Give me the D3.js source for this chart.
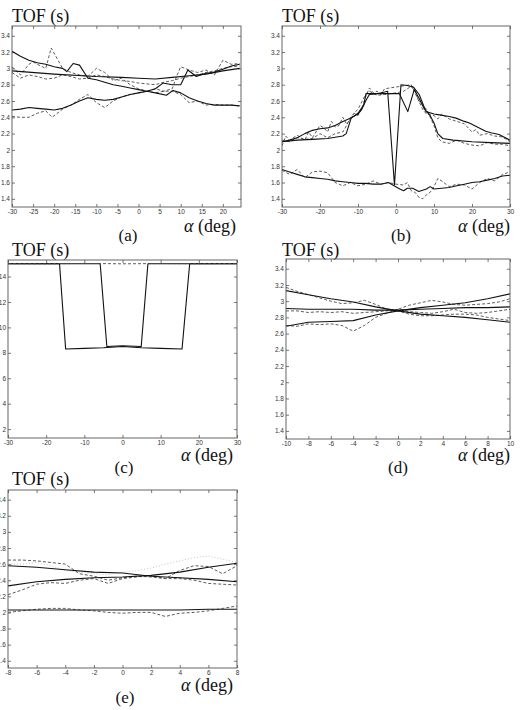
<!DOCTYPE html>
<html><head><meta charset="utf-8">
<script src="https://cdn.jsdelivr.net/npm/d3@7"></script>
<style>body{margin:0;background:#fff}svg{display:block}</style>
</head><body>
<script>
// ---------- DATA ----------
const yTicksTOF = [1.4,1.6,1.8,2,2.2,2.4,2.6,2.8,3,3.2,3.4];
const yTicksC = [2,4,6,8,10,12,14];
const xTicksA = [-30,-25,-20,-15,-10,-5,0,5,10,15,20];
const xTicksB = [-30,-20,-10,0,10,20,30];
const xTicksC = [-30,-20,-10,0,10,20,30];
const xTicksD = [-10,-8,-6,-4,-2,0,2,4,6,8,10];
const xTicksE = [-8,-6,-4,-2,0,2,4,6,8];

// panel (a)
const aS1x = [-30,-28,-26,-24,-22,-20,-18,-17,-15.5,-14,-12,-10,-8,-6,-4,-2,0,2,4,6.6,8.2,10,12,14,16,18,20,22,24];
const aS1y = [3.21,3.15,3.1,3.07,3.05,3.02,3.0,2.96,3.06,3.04,2.88,2.86,2.83,2.8,2.78,2.76,2.74,2.72,2.7,2.67,2.73,2.7,2.64,2.6,2.57,2.55,2.55,2.55,2.54];
const aS2x = [-30,-20,-10,-4,0,4,8,12,16,20,24];
const aS2y = [2.97,2.93,2.9,2.89,2.88,2.87,2.89,2.91,2.93,2.97,3.0];
const aS3x = [-30,-28,-26,-24,-22,-20,-18,-16,-14,-12,-10,-8,-6,-4,-2,0,2,4,5.8,8,10,11.7,13.7,16,17.6,20,22,24];
const aS3y = [2.49,2.5,2.52,2.51,2.5,2.49,2.51,2.55,2.6,2.64,2.62,2.61,2.62,2.65,2.68,2.7,2.72,2.75,2.82,2.8,2.8,2.98,2.9,2.94,2.95,2.99,3.03,3.05];
const aD1x = [-30,-28,-26,-25,-24,-22,-20.7,-18,-16,-14,-12,-10,-8,-6,-4,-2,0,2,4,6,8,10,12,14,16,18,20,22,24];
const aD1y = [3.02,2.92,3.05,3.08,3.05,3.0,3.25,3.0,2.95,2.92,2.9,3.0,2.95,2.85,2.88,2.8,2.75,2.72,2.7,2.72,2.72,2.68,2.58,2.6,2.55,2.56,2.55,2.55,2.54];
const aD2x = [-30,-28,-26,-24,-22,-20,-18,-16,-14,-12,-10,-8,-6,-4,-2,0,2,4,6,8,10,12,14,16,18,20,22,24];
const aD2y = [2.95,2.88,2.92,2.9,2.87,2.88,2.92,2.9,2.87,2.88,2.92,2.9,2.87,2.85,2.84,2.82,2.81,2.8,2.83,2.85,2.88,2.9,2.92,2.95,2.97,3.0,3.02,3.03];
const aD3x = [-30,-28,-26,-24,-22,-20.5,-18,-16,-14,-12,-10,-8,-6,-4,-2,0,2,4,6,8,9,10,12,14,16,18,20,22,24];
const aD3y = [2.41,2.4,2.4,2.45,2.48,2.4,2.5,2.55,2.62,2.68,2.58,2.52,2.6,2.65,2.68,2.7,2.72,2.75,2.72,2.75,2.9,3.02,2.98,2.95,2.98,2.92,3.1,3.05,3.06];

// panel (b)
const bS1x = [-30,-28,-26,-24,-22,-20,-18,-16,-14,-12,-10,-9,-8,-7,-5,-3,-2.2,-0.4,1.3,3,4.6,6.1,7.9,10,11.4,14,15.8,18,19.3,21,23.6,25,27.1,30];
const bS1y = [2.1,2.12,2.15,2.2,2.24,2.26,2.27,2.3,2.35,2.39,2.44,2.5,2.6,2.68,2.69,2.71,2.72,1.57,2.8,2.79,2.77,2.68,2.47,2.44,2.43,2.41,2.39,2.35,2.33,2.29,2.23,2.21,2.19,2.12];
const bS2x = [-30,-26,-22,-18,-14,-13.1,-11.8,-10,-8.5,-7.9,-4,0,0.9,3.1,4.8,6,7.5,9,10,11,12.3,15,20,25,30];
const bS2y = [2.1,2.12,2.13,2.14,2.17,2.2,2.39,2.45,2.55,2.69,2.69,2.69,2.69,2.47,2.74,2.64,2.5,2.42,2.33,2.2,2.14,2.12,2.1,2.09,2.08];
const bS3x = [-30,-28,-26,-24,-22,-20,-18,-16,-14,-12,-10,-8,-6,-4,-2,-0.5,1,2,3,4.4,6,8,9,10,12,14,16,18,20,22,24,26,28,30];
const bS3y = [1.76,1.73,1.7,1.67,1.66,1.65,1.64,1.62,1.61,1.6,1.59,1.59,1.58,1.58,1.6,1.56,1.52,1.5,1.53,1.53,1.49,1.52,1.55,1.52,1.53,1.54,1.56,1.58,1.6,1.61,1.63,1.65,1.68,1.69];
const bD1x = [-30,-29,-28,-26,-24,-23,-22,-20,-19,-18,-17,-16,-15,-14,-13,-12,-11,-10,-9,-8,-7,-6,-5,-4,-3,4,5,6,7,8,10,11,12,14,16,18,20,21,22,24,26,28,30];
const bD1y = [2.05,2.17,2.12,2.18,2.12,2.22,2.15,2.3,2.27,2.22,2.35,2.28,2.3,2.4,2.32,2.37,2.45,2.42,2.5,2.65,2.76,2.7,2.72,2.68,2.75,2.8,2.7,2.6,2.5,2.44,2.42,2.38,2.44,2.38,2.35,2.32,2.22,2.25,2.18,2.2,2.17,2.16,2.1];
const bD2x = [-30,-28,-26,-24,-22,-20,-18,-16,-14,-13,-12,-10,-8,-7,-5,-3,0,2,4,5,6,8,10,11,12,14,16,18,20,22,24,26,28,30];
const bD2y = [2.12,2.1,2.15,2.13,2.14,2.2,2.15,2.2,2.22,2.3,2.4,2.5,2.68,2.72,2.67,2.68,2.7,2.72,2.78,2.72,2.6,2.5,2.3,2.15,2.1,2.08,2.12,2.08,2.06,2.05,2.09,2.07,2.07,2.05];
const bD3x = [-30,-28,-26,-24,-22,-20,-18,-16,-14,-12,-10,-8,-6,-4,-2,0,2,3,4,5,6,7,8,9,10,11,12,14,16,18,20,22,24,26,28,30];
const bD3y = [1.75,1.7,1.76,1.66,1.73,1.74,1.72,1.6,1.56,1.6,1.56,1.58,1.62,1.58,1.6,1.58,1.57,1.6,1.5,1.48,1.42,1.4,1.45,1.48,1.55,1.65,1.62,1.55,1.58,1.57,1.52,1.6,1.65,1.62,1.7,1.73];

// panel (c)
const cS1x = [-30,-16.5,-14.9,-10,-5,0,5,10,15.6,17.6,30];
const cS1y = [15,15,8.3,8.35,8.4,8.5,8.4,8.35,8.3,15,15];
const cS2x = [-30,-5.85,-4.1,0,4.9,6.66,30];
const cS2y = [15,15,8.5,8.55,8.5,15,15];
const cD1x = [-30,-20,-10,0,10,20,30];
const cD1y = [15.02,15,15.03,15,15.02,15.01,15.03];

// panel (d)
const dX = [-10,-8,-6,-4,-2,0,2,4,6,8,10];
const dS1y = [3.13,3.08,3.03,2.99,2.93,2.88,2.84,2.82,2.8,2.77,2.74];
const dS2y = [2.69,2.74,2.75,2.76,2.83,2.88,2.92,2.95,2.98,3.03,3.09];
const dS3y = [2.91,2.9,2.9,2.9,2.89,2.89,2.9,2.91,2.92,2.92,2.93];
const dDx = [-10,-9,-8,-7,-6,-5,-4,-3,-2,-1,0,1,2,3,4,5,6,7,8,9,10];
const dD1y = [3.17,3.12,3.08,3.04,3.0,2.97,2.98,3.01,2.96,2.9,2.88,2.84,2.82,2.82,2.83,2.84,2.84,2.83,2.8,2.78,2.76];
const dD2y = [2.7,2.69,2.72,2.71,2.72,2.7,2.63,2.7,2.8,2.85,2.9,2.95,2.98,3.01,2.99,2.96,2.95,2.96,2.97,2.99,3.03];
const dD3y = [2.88,2.88,2.86,2.87,2.86,2.87,2.85,2.86,2.87,2.88,2.9,2.87,2.86,2.85,2.87,2.9,2.86,2.85,2.86,2.88,2.9];

// panel (e)
const eX = [-8,-6,-4,-2,0,2,4,6,8];
const eS1y = [2.58,2.56,2.53,2.5,2.49,2.45,2.43,2.41,2.38];
const eS2y = [2.33,2.38,2.41,2.43,2.44,2.46,2.5,2.56,2.61];
const eS3y = [2.03,2.03,2.03,2.03,2.03,2.03,2.03,2.04,2.04];
const eDx = [-8,-7,-6,-5,-4,-3,-2,-1,0,1,2,3,4,5,6,7,8];
const eD1y = [2.65,2.65,2.64,2.62,2.6,2.48,2.45,2.4,2.43,2.45,2.44,2.42,2.42,2.4,2.36,2.35,2.34];
const eD2y = [2.22,2.28,2.35,2.37,2.36,2.4,2.42,2.36,2.42,2.44,2.46,2.42,2.52,2.58,2.57,2.48,2.58];
const eD3y = [2.0,2.02,2.04,2.05,2.05,2.03,2.02,2.0,1.99,2.0,2.0,1.95,1.99,2.0,2.02,2.05,2.08];
const eF1y = [2.6,2.6,2.62,2.58,2.52,2.5,2.48,2.47,2.5,2.52,2.55,2.6,2.64,2.68,2.7,2.66,2.62];

// ---------- DRAW ----------
const svg = d3.select("body").append("svg").attr("width",520).attr("height",710);
const SERIF = "'Liberation Serif','DejaVu Serif',serif";
const SANS = "'Liberation Sans',Arial,sans-serif";
const STY = {
  solid:{stroke:"#111",w:1.1,dash:null},
  dash:{stroke:"#4a4a4a",w:0.9,dash:"3,2"},
  faint:{stroke:"#bdbdbd",w:0.9,dash:"1,2"}
};
const zip = (xs,ys)=>xs.map((x,i)=>[x,ys[i]]);

function panel(p){
  const g = svg.append("g");
  const x = d3.scaleLinear().domain(p.xDom).range([p.l,p.r]);
  const y = d3.scaleLinear().domain(p.yDom).range([p.b,p.t]);
  const fmt = d3.format("~g");
  const tl = 3;
  const ab = g.append("g").attr("transform",`translate(0,${p.b})`)
    .call(d3.axisBottom(x).tickValues(p.xTicks).tickSizeInner(-tl).tickSizeOuter(0).tickPadding(4).tickFormat(d=>String(d)));
  const al = g.append("g").attr("transform",`translate(${p.l},0)`)
    .call(d3.axisLeft(y).tickValues(p.yTicks).tickSizeInner(-tl).tickSizeOuter(0).tickPadding(2).tickFormat(fmt));
  const at = g.append("g").attr("transform",`translate(0,${p.t})`)
    .call(d3.axisTop(x).tickValues(p.xTicks).tickSizeInner(-tl).tickSizeOuter(0).tickFormat(""));
  const ar = g.append("g").attr("transform",`translate(${p.r},0)`)
    .call(d3.axisRight(y).tickValues(p.yTicks).tickSizeInner(-tl).tickSizeOuter(0).tickFormat(""));
  [ab,al,at,ar].forEach(a=>{
    a.select(".domain").remove();
    a.selectAll("line").attr("stroke","#555").attr("stroke-width",0.8);
    a.selectAll("text").attr("font-family",SANS).attr("font-size",6.5).attr("fill","#333");
  });
  ab.selectAll("text").attr("dy","0.4em");
  const line = d3.line().x(d=>x(d[0])).y(d=>y(d[1]));
  const clipId = "clip"+p.id;
  g.append("clipPath").attr("id",clipId).append("rect")
    .attr("x",p.l).attr("y",p.t).attr("width",p.r-p.l).attr("height",p.b-p.t);
  const lg = g.append("g").attr("clip-path",`url(#${clipId})`);
  p.series.forEach(s=>{
    const st = STY[s.style];
    lg.append("path").datum(zip(s.x,s.y)).attr("d",line)
      .attr("fill","none").attr("stroke",st.stroke).attr("stroke-width",st.w)
      .attr("stroke-dasharray",st.dash).attr("stroke-linejoin","round");
  });
  g.append("rect").attr("x",p.l).attr("y",p.t).attr("width",p.r-p.l).attr("height",p.b-p.t)
    .attr("fill","none").attr("stroke","#555").attr("stroke-width",0.9);
  g.append("text").attr("x",p.l+(p.titleDx||0)).attr("y",p.titleY).attr("font-family",SERIF)
    .attr("font-size",18).attr("fill","#111").text("TOF (s)");
  const ax = g.append("text").attr("x",p.alphaX).attr("y",p.alphaY).attr("text-anchor","end")
    .attr("font-family",SERIF).attr("font-size",18).attr("fill","#111");
  ax.append("tspan").attr("font-style","italic").text("α");
  ax.append("tspan").text(" (deg)");
  g.append("text").attr("x",p.letterX).attr("y",p.letterY).attr("text-anchor","middle")
    .attr("font-family",SERIF).attr("font-size",17).attr("fill","#111").text(p.letter);
}

const yDomTOF = [1.3,3.52];
panel({id:"a",l:12,r:241,t:26,b:207,xDom:[-30,24.3],yDom:yDomTOF,xTicks:xTicksA,yTicks:yTicksTOF,
  titleY:22,titleDx:0,alphaX:236,alphaY:232,letterX:128,letterY:241,letter:"(a)",
  series:[{x:aD1x,y:aD1y,style:"dash"},{x:aD2x,y:aD2y,style:"dash"},{x:aD3x,y:aD3y,style:"dash"},
          {x:aS1x,y:aS1y,style:"solid"},{x:aS2x,y:aS2y,style:"solid"},{x:aS3x,y:aS3y,style:"solid"}]});
panel({id:"b",l:282,r:510,t:26,b:207,xDom:[-30,30],yDom:yDomTOF,xTicks:xTicksB,yTicks:yTicksTOF,
  titleY:22,titleDx:0,alphaX:510,alphaY:232,letterX:401,letterY:241,letter:"(b)",
  series:[{x:bD1x,y:bD1y,style:"dash"},{x:bD2x,y:bD2y,style:"dash"},{x:bD3x,y:bD3y,style:"dash"},
          {x:bS1x,y:bS1y,style:"solid"},{x:bS2x,y:bS2y,style:"solid"},{x:bS3x,y:bS3y,style:"solid"}]});
panel({id:"c",l:8,r:237,t:260,b:438,xDom:[-30,30],yDom:[1.3,15.3],xTicks:xTicksC,yTicks:yTicksC,
  titleY:256,titleDx:4,alphaX:233,alphaY:461,letterX:124,letterY:473,letter:"(c)",
  series:[{x:cS1x,y:cS1y,style:"solid"},{x:cS2x,y:cS2y,style:"solid"},{x:cD1x,y:cD1y,style:"dash"}]});
panel({id:"d",l:286,r:510,t:259,b:439,xDom:[-10,10],yDom:yDomTOF,xTicks:xTicksD,yTicks:yTicksTOF,
  titleY:256,titleDx:-4,alphaX:510,alphaY:461,letterX:398,letterY:473,letter:"(d)",
  series:[{x:dDx,y:dD1y,style:"dash"},{x:dDx,y:dD2y,style:"dash"},{x:dDx,y:dD3y,style:"dash"},
          {x:dX,y:dS1y,style:"solid"},{x:dX,y:dS2y,style:"solid"},{x:dX,y:dS3y,style:"solid"}]});
panel({id:"e",l:8,r:237,t:490,b:668,xDom:[-8,8],yDom:[1.31,3.52],xTicks:xTicksE,yTicks:yTicksTOF,
  titleY:485,titleDx:4,alphaX:233,alphaY:691,letterX:125,letterY:703,letter:"(e)",
  series:[{x:eDx,y:eF1y,style:"faint"},{x:eDx,y:eD1y,style:"dash"},{x:eDx,y:eD2y,style:"dash"},{x:eDx,y:eD3y,style:"dash"},
          {x:eX,y:eS1y,style:"solid"},{x:eX,y:eS2y,style:"solid"},{x:eX,y:eS3y,style:"solid"}]});
</script>
</body></html>
